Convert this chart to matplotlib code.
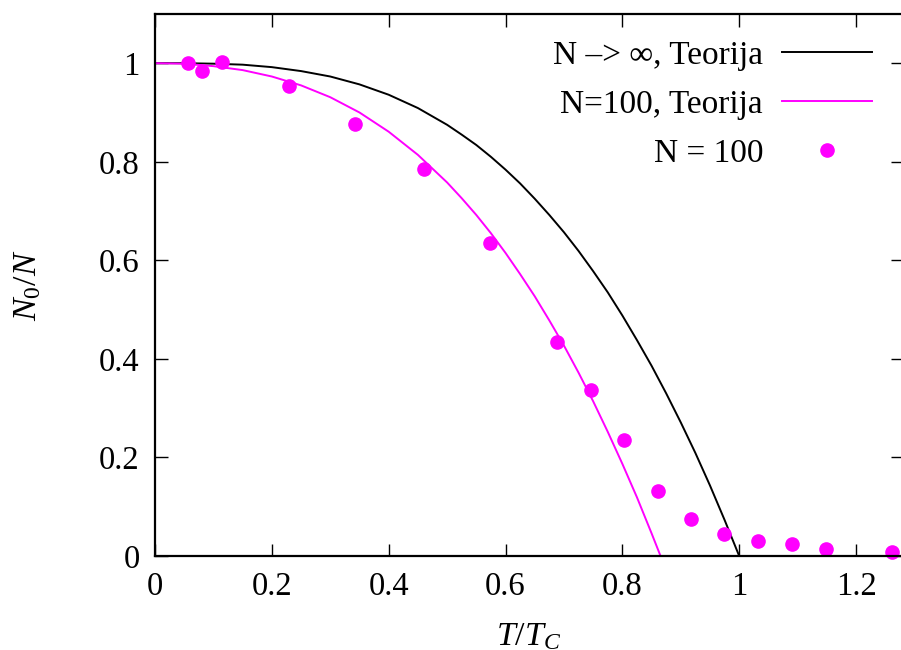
import matplotlib
matplotlib.use('Agg')
import matplotlib.pyplot as plt
from matplotlib.ticker import FormatStrFormatter

plt.rcParams['font.family'] = ['Liberation Serif', 'DejaVu Serif']
plt.rcParams['mathtext.fontset'] = 'custom'
plt.rcParams['mathtext.rm'] = 'Liberation Serif'
plt.rcParams['mathtext.it'] = 'Liberation Serif:italic'

# theory curve, N -> infinity
t_inf = [0, 0.05, 0.1, 0.15, 0.2, 0.25, 0.3, 0.35, 0.4, 0.45, 0.5, 0.525,
         0.55, 0.575, 0.6, 0.625, 0.65, 0.675, 0.7, 0.725, 0.75, 0.775,
         0.8, 0.825, 0.85, 0.875, 0.9, 0.925, 0.95, 0.975, 1.0]
n_inf = [1.0, 1.0, 0.999, 0.997, 0.992, 0.984, 0.973, 0.957, 0.936, 0.909, 0.875, 0.855,
         0.834, 0.810, 0.784, 0.756, 0.725, 0.692, 0.657, 0.619, 0.578, 0.535,
         0.488, 0.438, 0.386, 0.330, 0.271, 0.209, 0.143, 0.073, 0.0]

# theory curve, N = 100
t_100 = [0, 0.05, 0.1, 0.15, 0.2, 0.25, 0.3, 0.35, 0.4, 0.45, 0.5, 0.525,
         0.55, 0.575, 0.6, 0.625, 0.65, 0.675, 0.7, 0.725, 0.75, 0.775,
         0.8, 0.825, 0.85, 0.865, 0.87]
n_100 = [1.0, 0.999, 0.994, 0.986, 0.973, 0.955, 0.931, 0.900, 0.861, 0.814, 0.758, 0.726,
         0.692, 0.655, 0.615, 0.572, 0.527, 0.478, 0.427, 0.372, 0.314, 0.252,
         0.187, 0.119, 0.046, 0.001, -0.014]

# simulation points, N = 100
t_pts = [0.057, 0.081, 0.115, 0.230, 0.343, 0.460, 0.573, 0.688, 0.746,
         0.803, 0.861, 0.918, 0.974, 1.033, 1.091, 1.148, 1.261]
n_pts = [1.0, 0.984, 1.002, 0.953, 0.876, 0.785, 0.636, 0.435, 0.337,
         0.236, 0.132, 0.075, 0.045, 0.030, 0.024, 0.014, 0.008]

fig = plt.figure(figsize=(9.01, 6.5), dpi=100)
ax = fig.add_axes([0.172, 0.1446, 0.830, 0.834])

ax.plot(t_inf, n_inf, color='black', lw=1.4, label='N –> ∞, Teorija')
ax.plot(t_100, n_100, color='#ff00ff', lw=1.4, label='N=100, Teorija')
ax.plot(t_pts, n_pts, 'o', color='#ff00ff', ms=9.5, label='N = 100', clip_on=False)

ax.set_xlim(0, 1.28)
ax.set_ylim(0, 1.1)
ax.set_xticks([0, 0.2, 0.4, 0.6, 0.8, 1.0, 1.2])
ax.set_yticks([0, 0.2, 0.4, 0.6, 0.8, 1.0])
ax.xaxis.set_major_formatter(FormatStrFormatter('%g'))
ax.yaxis.set_major_formatter(FormatStrFormatter('%g'))
ax.tick_params(direction='in', length=9, width=1, top=True, right=True,
               labelsize=23.5, pad=11)
for s in ax.spines.values():
    s.set_linewidth(1.6)

# the reference has this label partly cut off by the bottom edge
ax.set_xlabel(r'$T/T_C$', fontsize=24.5, labelpad=14)
ax.set_ylabel(r'$N_0/N$', fontsize=24.5, labelpad=40)

leg = ax.legend(loc='upper right', bbox_to_anchor=(0.999, 1.006), frameon=False,
                markerfirst=False, fontsize=24, handlelength=2.7,
                handletextpad=0.57, labelspacing=0.55, numpoints=1)

fig.savefig('out.png', dpi=100)
